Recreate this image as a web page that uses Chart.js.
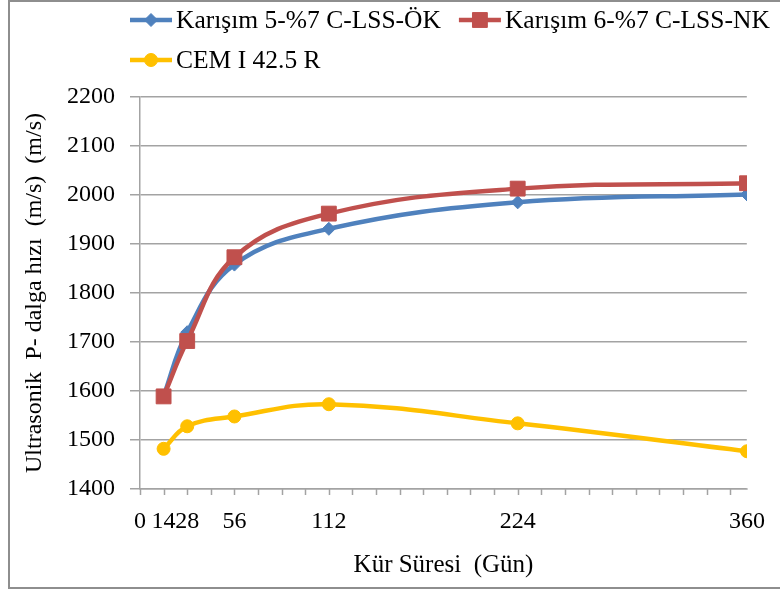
<!DOCTYPE html>
<html>
<head>
<meta charset="utf-8">
<script src="https://cdn.jsdelivr.net/npm/chart.js"></script>
<style>
  html, body { margin: 0; padding: 0; background: #fff; }
  #wrap { width: 780px; height: 592px; position: relative; }
</style>
</head>
<body>
<div id="wrap"><canvas id="chart"></canvas></div>
<script>
// --- data ---
const days = [14, 28, 56, 112, 224, 360];
const karisim5 = [1590, 1720, 1858, 1931, 1985, 2001];
const karisim6 = [1589, 1702, 1873, 1962, 2013, 2024];
const cem = [1482, 1528, 1548, 1573, 1534, 1477];

const seriesNames = ['Karışım 5-%7 C-LSS-ÖK', 'Karışım 6-%7 C-LSS-NK', 'CEM I 42.5 R'];
const xLabelValues = [0, 14, 28, 56, 112, 224, 360];
const xTickStep = 14;
const yMin = 1400, yMax = 2200, yStep = 100;

const FONT = "'Liberation Serif', 'Times New Roman', serif";
const GRID = '#a3a3a3';

function points(values) {
    return days.map((d, i) => ({ x: d, y: values[i] }));
}

// white background + outer frame
const framePlugin = {
    id: 'frame',
    beforeDraw(chart) {
        const ctx = chart.ctx;
        ctx.save();
        ctx.fillStyle = '#fff';
        ctx.fillRect(0, 0, chart.width, chart.height);
        ctx.strokeStyle = '#8e8e8e';
        ctx.lineWidth = 2;
        ctx.beginPath();
        ctx.moveTo(chart.width, 1);
        ctx.lineTo(9, 1);
        ctx.lineTo(9, 588);
        ctx.lineTo(chart.width, 588);
        ctx.stroke();
        ctx.restore();
    },
    // the original has no right-hand edge on the plot; wipe it before the series go on
    beforeDatasetsDraw(chart) {
        const a = chart.chartArea;
        const ctx = chart.ctx;
        ctx.save();
        ctx.fillStyle = '#fff';
        ctx.fillRect(a.right - 0.2, a.top - 3, 6, a.bottom - a.top + 2.5);
        ctx.restore();
    }
};

// small tick marks under the x axis, every 14 days
const xTickPlugin = {
    id: 'xTickMarks',
    afterDraw(chart) {
        const sx = chart.scales.x;
        const ctx = chart.ctx;
        ctx.save();
        ctx.strokeStyle = GRID;
        ctx.lineWidth = 1.5;
        ctx.beginPath();
        for (let v = 0; v <= sx.max; v += xTickStep) {
            const px = Math.round(sx.getPixelForValue(v)) + 0.5;
            ctx.moveTo(px, sx.top);
            ctx.lineTo(px, sx.top + 6);
        }
        ctx.stroke();
        ctx.restore();
    }
};

// legend with line + marker, wrapping like the original
const legendPlugin = {
    id: 'lineLegend',
    afterDraw(chart) {
        const ctx = chart.ctx;
        const startX = 130, lineLen = 42, rowH = 40;
        let x = startX, y = 20;
        ctx.save();
        ctx.font = '25.5px ' + FONT;
        ctx.textBaseline = 'middle';
        ctx.textAlign = 'left';
        chart.data.datasets.forEach(ds => {
            const w = lineLen + 4 + ctx.measureText(ds.label).width;
            if (x + w > chart.width - 5) {
                x = startX;
                y += rowH;
            }
            ctx.strokeStyle = ds.borderColor;
            ctx.lineWidth = ds.borderWidth;
            ctx.beginPath();
            ctx.moveTo(x, y);
            ctx.lineTo(x + lineLen, y);
            ctx.stroke();
            ctx.fillStyle = ds.borderColor;
            ctx.lineWidth = 1;
            Chart.helpers.drawPoint(ctx, {
                pointStyle: ds.pointStyle,
                radius: ds.pointRadius,
                borderWidth: 1
            }, x + lineLen / 2, y);
            ctx.fillStyle = '#000';
            ctx.fillText(ds.label, x + lineLen + 4, y + 1);
            x += w + 18;
        });
        ctx.restore();
    }
};

const common = {
    borderWidth: 4.5,
    tension: 0.4,
    fill: false,
    pointBorderWidth: 1
};

new Chart(document.getElementById('chart'), {
    type: 'line',
    data: {
        datasets: [
            Object.assign({}, common, {
                label: seriesNames[0],
                data: points(karisim5),
                borderColor: '#4f81bd',
                backgroundColor: '#4f81bd',
                pointStyle: 'rectRot',
                pointRadius: 6.5,
                order: 1
            }),
            Object.assign({}, common, {
                label: seriesNames[1],
                data: points(karisim6),
                borderColor: '#c0504d',
                backgroundColor: '#c0504d',
                pointStyle: 'rect',
                pointRadius: 10.5,
                order: 0
            }),
            Object.assign({}, common, {
                label: seriesNames[2],
                data: points(cem),
                borderColor: '#ffc000',
                backgroundColor: '#ffc000',
                pointStyle: 'circle',
                pointRadius: 6.5,
                order: 2
            })
        ]
    },
    options: {
        responsive: true,
        maintainAspectRatio: false,
        animation: false,
        layout: { padding: { top: 97, right: 33, bottom: 0, left: 0 } },
        plugins: {
            legend: { display: false },
            tooltip: { enabled: false }
        },
        scales: {
            x: {
                type: 'linear',
                min: 0,
                max: 360,
                afterBuildTicks(scale) {
                    scale.ticks = xLabelValues.map(v => ({ value: v }));
                },
                afterFit(scale) { scale.height = 103; },
                grid: { display: false, tickLength: 6 },
                border: { display: true, color: GRID, width: 1.5 },
                ticks: {
                    autoSkip: false,
                    maxRotation: 0,
                    padding: 12,
                    color: '#000',
                    font: { family: FONT, size: 24 },
                    callback: v => String(v)
                },
                title: {
                    display: true,
                    text: 'Kür Süresi  (Gün)',
                    color: '#000',
                    font: { family: FONT, size: 25 },
                    padding: { top: 0, bottom: 12 }
                }
            },
            y: {
                min: yMin,
                max: yMax,
                afterFit(scale) { scale.width = 140; },
                grid: {
                    color: GRID,
                    lineWidth: 1.5,
                    tickLength: 10
                },
                border: { color: GRID, width: 1.5 },
                ticks: {
                    stepSize: yStep,
                    padding: 15,
                    color: '#000',
                    font: { family: FONT, size: 24 },
                    callback: v => String(v)
                },
                title: {
                    display: true,
                    text: 'Ultrasonik  P- dalga hızı  (m/s)  (m/s)',
                    color: '#000',
                    font: { family: FONT, size: 24 },
                    padding: { top: 20, bottom: 0 }
                }
            }
        }
    },
    plugins: [framePlugin, xTickPlugin, legendPlugin]
});
</script>
</body>
</html>
